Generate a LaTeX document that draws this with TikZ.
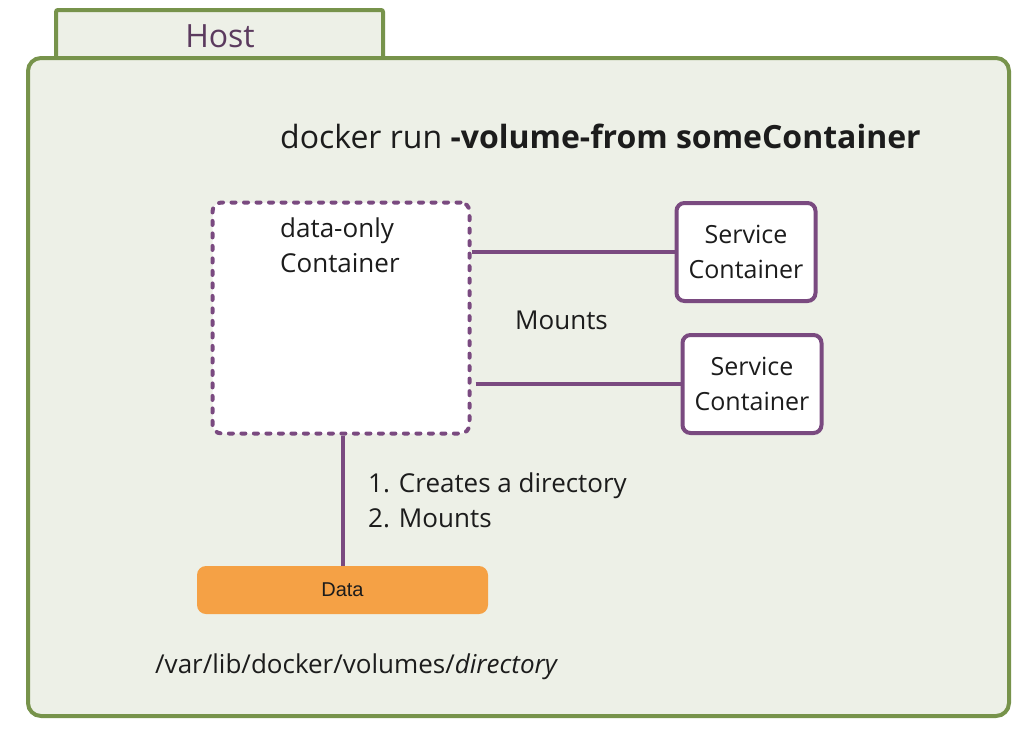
\documentclass[tikz,border=0pt]{standalone}
\usepackage{fontspec}
\setmainfont{Open Sans}
\newfontfamily\helv{Liberation Sans}
\begin{document}
\begin{tikzpicture}[x=1pt,y=-1pt,
  hostgreen/.style={draw=hgreen,line width=4pt,fill=hfill},
  svcbox/.style={draw=pplum,line width=4pt,fill=white,rounded corners=8pt,minimum width=139pt,minimum height=98pt,align=center,font=\fontsize{25}{35}\selectfont,text=tdark,inner sep=0pt},
  conn/.style={draw=pplum,line width=4pt},
  lbl/.style={font=\fontsize{26}{35}\selectfont,text=tdark,inner sep=0pt}]
\definecolor{hgreen}{HTML}{77934B}
\definecolor{hfill}{HTML}{EDF0E7}
\definecolor{pplum}{HTML}{7A4A80}
\definecolor{tdark}{HTML}{1C1C1C}
\definecolor{hosttext}{HTML}{5B3A5E}
\definecolor{dorange}{HTML}{F5A145}
\useasboundingbox (0,0) rectangle (1034,736);
\fill[white] (0,0) rectangle (1034,736);
% tab
\draw[hostgreen,rounded corners=2pt] (56,60) -- (56,10) -- (383,10) -- (383,60);
\node[font=\fontsize{32}{38}\selectfont,text=hosttext,anchor=base,inner sep=0pt] (host) at (220,47) {Host};
% main box
\draw[hostgreen,rounded corners=13pt] (28,58) rectangle (1009,716);
\node[font=\fontsize{32}{38}\selectfont,text=tdark,anchor=base west,inner sep=0pt] (title) at (280,148) {docker run \textbf{-volume-from someContainer}};
% data-only container
\node[draw=pplum,line width=4pt,line cap=round,dash pattern=on 4pt off 8.5pt,fill=white,rounded corners=9pt,minimum width=257pt,minimum height=231pt,inner sep=0pt] (dataonly) at (341,318) {};
\node[lbl,align=left,anchor=north west] (dotext) at (280,218) {data-only\\Container};
% service containers
\node[svcbox] (svc1) at (746,252) {Service\\Container};
\node[svcbox] (svc2) at (752,384) {Service\\Container};
\coordinate (c1) at (dataonly.east |- svc1.west);
\coordinate (c2) at ([xshift=4pt]dataonly.east |- svc2.west);
\draw[conn] (c1) -- (svc1.west);
\draw[conn] (c2) -- (svc2.west);
\node[lbl,anchor=base west] (mounts) at (515,329) {Mounts};
% data
\node[fill=dorange,rounded corners=9pt,minimum width=291pt,minimum height=48pt,inner sep=0pt,font=\helv\fontsize{20}{24}\selectfont,text=tdark] (data) at (342.5,590) {Data};
\draw[conn] (dataonly.south -| 343,0) -- (data.north -| 343,0);
\node[lbl,align=left,anchor=north west] (steps) at (368,473) {1. Creates a directory\\2. Mounts};
\node[lbl,anchor=base west] (path) at (155,673) {/var/lib/docker/volumes/\textit{directory}};
\end{tikzpicture}
\end{document}
